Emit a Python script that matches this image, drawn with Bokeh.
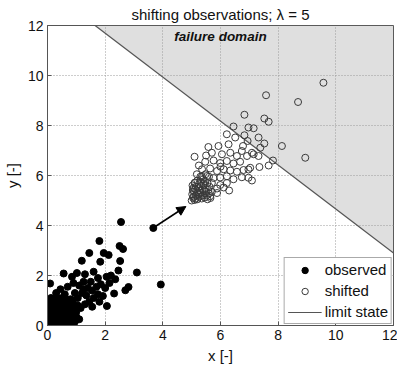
from bokeh.plotting import figure
from bokeh.models import (Arrow, NormalHead, Label, Legend, LegendItem,
                          FixedTicker, Range1d)
from bokeh.embed import file_html
from bokeh.resources import INLINE

# ---------------- data ----------------
obs_x = [3.67, 2.55, 1.80, 2.50, 2.62, 1.45, 1.95, 2.12, 1.19, 1.83, 2.52, 3.10, 2.46, 0.09,
         2.81, 2.70, 2.31, 1.92, 2.06, 0.56, 3.93, 1.02, 1.30, 2.20, 1.60, 2.35, 1.50, 1.75,
         2.05, 0.85,
         0.70, 0.90, 1.10, 1.25, 1.40, 1.55, 1.70, 1.85, 2.00, 1.20, 1.35, 1.60, 1.75, 0.95,
         1.05, 1.45, 1.80, 2.15, 0.60, 0.80, 1.30, 1.55, 1.15, 0.45, 0.30, 0.50, 0.35, 1.00,
         0.85, 1.25,
         0.05, 0.10, 0.15, 0.20, 0.25, 0.30, 0.35, 0.40, 0.45, 0.50, 0.55, 0.60, 0.65, 0.70,
         0.75, 0.80, 0.85, 0.90, 0.95, 1.00, 0.05, 0.10, 0.15, 0.20, 0.25, 0.30, 0.35, 0.40,
         0.45, 0.50, 0.55, 0.60, 0.65, 0.70, 0.75, 0.80, 0.12, 0.22, 0.32, 0.42, 0.52, 0.62,
         0.08, 0.18, 0.28, 0.38, 0.48, 0.58, 0.68, 0.78, 0.88, 0.15, 0.25, 0.05, 0.02, 0.12,
         0.35, 0.20, 0.60, 0.72, 1.05, 1.10, 0.95]
obs_y = [3.90, 4.14, 3.38, 3.18, 3.06, 2.90, 2.90, 2.82, 2.59, 2.55, 2.58, 2.12, 2.20, 1.68,
         1.54, 1.41, 1.28, 1.18, 0.78, 2.08, 1.64, 2.10, 2.05, 2.00, 2.15, 1.85, 1.75, 1.90,
         1.95, 1.95,
         1.55, 1.70, 1.60, 1.75, 1.50, 1.40, 1.55, 1.65, 1.50, 1.30, 1.20, 1.10, 1.25, 1.30,
         1.10, 0.95, 0.95, 1.70, 1.25, 1.05, 0.85, 0.75, 0.70, 1.45, 1.30, 1.10, 0.95, 0.55,
         0.80, 1.45,
         0.05, 0.20, 0.10, 0.30, 0.05, 0.15, 0.40, 0.25, 0.10, 0.35, 0.55, 0.20, 0.45, 0.10,
         0.30, 0.60, 0.25, 0.45, 0.15, 0.35, 0.45, 0.65, 0.35, 0.75, 0.55, 0.85, 0.60, 0.70,
         0.90, 0.65, 0.80, 0.95, 0.70, 0.85, 0.55, 0.05, 0.02, 0.12, 0.02, 0.48, 0.18, 0.02,
         0.30, 0.55, 0.28, 0.12, 0.75, 0.40, 0.60, 0.90, 1.00, 0.85, 1.00, 0.90, 0.15, 1.10,
         1.10, 0.95, 1.05, 0.38, 0.80, 0.25, 0.65]

sh_x = [9.57, 7.58, 8.69, 6.83, 7.52, 7.67, 6.45, 6.97, 7.15, 6.22, 6.83, 6.51, 7.32, 6.94,
        7.52, 8.13, 6.78, 7.38, 7.15, 7.32, 8.94, 7.82, 7.67, 7.35, 6.97, 7.09, 6.74, 5.58,
        5.93, 6.28, 5.10, 5.70, 6.05, 6.34, 6.57, 6.74, 6.92, 7.09,
        5.47, 5.76, 5.99, 6.22, 6.45, 6.68, 7.03, 5.36, 5.64, 5.88, 6.11, 6.34, 6.57, 6.80,
        5.30, 5.53, 5.76, 5.99, 6.22, 6.45, 6.97, 5.12, 5.41, 5.70, 5.99, 6.22, 5.06, 5.88,
        6.11, 5.88, 5.64, 6.30, 5.25, 5.50, 6.00,
        5.00, 5.05, 5.10, 5.15, 5.20, 5.25, 5.30, 5.35, 5.40, 5.45, 5.50, 5.55, 5.60, 5.02,
        5.08, 5.12, 5.18, 5.22, 5.28, 5.32, 5.38, 5.42, 5.48, 5.52, 5.58, 5.62, 5.65, 5.70,
        5.03, 5.10, 5.20, 5.30, 5.40, 5.15, 5.25, 5.35, 5.45, 5.55, 5.06, 5.14, 5.24, 5.34,
        5.44, 5.04, 5.60, 5.48, 5.18]
sh_y = [9.71, 9.21, 8.94, 8.43, 8.28, 8.15, 7.96, 7.92, 7.89, 7.65, 7.61, 7.52, 7.52, 7.38,
        7.28, 7.18, 7.18, 7.11, 6.85, 6.78, 6.71, 6.60, 6.40, 6.34, 6.24, 5.80, 5.93, 7.14,
        7.18, 7.25, 6.75, 6.91, 6.85, 6.91, 6.78, 6.98, 6.78, 6.91,
        6.55, 6.60, 6.50, 6.58, 6.48, 6.55, 6.31, 6.25, 6.28, 6.18, 6.25, 6.20, 6.15, 6.22,
        5.95, 5.98, 5.90, 5.92, 5.97, 5.85, 5.91, 5.72, 5.68, 5.70, 5.62, 5.70, 5.50, 5.48,
        5.52, 5.30, 5.17, 5.40, 6.40, 6.80, 6.35,
        5.00, 5.10, 5.02, 5.20, 5.05, 5.15, 5.30, 5.08, 5.22, 5.12, 5.35, 5.05, 5.28, 5.25,
        5.35, 5.45, 5.32, 5.50, 5.40, 5.58, 5.45, 5.62, 5.50, 5.20, 5.42, 5.55, 5.10, 5.35,
        5.60, 5.70, 5.80, 5.75, 5.85, 5.55, 5.65, 5.95, 5.78, 5.70, 5.15, 5.08, 5.25, 5.18,
        5.40, 5.42, 5.95, 6.05, 6.05]

limit_x = [1.65, 12.0]
limit_y = [12.0, 2.9]
domain_x = [1.65, 12.0, 12.0]
domain_y = [12.0, 2.9, 12.0]
arrow_start = (3.74, 3.96)
arrow_end = (4.80, 4.76)
ticks = [0, 2, 4, 6, 8, 10, 12]

FONT = "Liberation Sans"

p = figure(frame_width=346, frame_height=300,
           x_range=Range1d(0, 12), y_range=Range1d(0, 12),
           output_backend="svg", toolbar_location=None,
           min_border_left=39, min_border_right=4,
           min_border_top=22, min_border_bottom=34,
           title="shifting observations; \u03bb = 5")
p.title.align = "center"
p.title.text_font = FONT
p.title.text_font_size = "15px"
p.title.text_font_style = "normal"
p.title.text_color = "#111111"
p.title.standoff = 6

# failure domain patch
p.patch(domain_x, domain_y, fill_color="#9a9a9a", fill_alpha=0.32, line_color=None)
ls = p.line(limit_x, limit_y, line_color="#555555", line_width=1.2)

r_obs = p.scatter(obs_x, obs_y, size=7, marker="circle",
                  fill_color="black", line_color="black")
r_sh = p.scatter(sh_x, sh_y, size=7, marker="circle",
                 fill_color=None, line_color="#3a3a3a", line_width=1)

p.add_layout(Arrow(end=NormalHead(size=9, fill_color="black", line_color="black"),
                   x_start=arrow_start[0], y_start=arrow_start[1],
                   x_end=arrow_end[0], y_end=arrow_end[1],
                   line_color="black", line_width=1.5))

p.add_layout(Label(x=6.0, y=11.55, text="failure domain", text_align="center",
                   text_baseline="middle", text_font=FONT, text_font_size="13.5px",
                   text_font_style="bold italic", text_color="#111111"))

for ax in (p.xaxis, p.yaxis):
    ax.ticker = FixedTicker(ticks=ticks)
    ax.major_label_text_font = FONT
    ax.major_label_text_font_size = "14px"
    ax.major_label_text_color = "#111111"
    ax.axis_label_text_font = FONT
    ax.axis_label_text_font_size = "15px"
    ax.axis_label_text_font_style = "normal"
    ax.axis_label_text_color = "#111111"
    ax.axis_line_color = "#555555"
    ax.major_tick_line_color = "#555555"
    ax.major_tick_in = 4
    ax.major_tick_out = 0
    ax.minor_tick_line_color = None
    ax.major_label_standoff = 4
    ax.axis_label_standoff = 4
p.xaxis.axis_label = "x [-]"
p.yaxis.axis_label = "y [-]"

for g in (p.xgrid, p.ygrid):
    g.ticker = FixedTicker(ticks=ticks)
    g.grid_line_color = "#9a9a9a"
    g.grid_line_dash = "1 2"
    g.grid_line_width = 1

p.outline_line_color = "#555555"
p.outline_line_alpha = 1

legend = Legend(items=[LegendItem(label="observed", renderers=[r_obs]),
                       LegendItem(label="shifted", renderers=[r_sh]),
                       LegendItem(label="limit state", renderers=[ls])],
                location="bottom_right")
legend.label_text_font = FONT
legend.label_text_font_size = "15px"
legend.label_text_color = "#111111"
legend.glyph_width = 34
legend.glyph_height = 16
legend.label_height = 16
legend.label_standoff = 3
legend.spacing = 4
legend.padding = 3
legend.margin = 1
legend.border_line_color = "#555555"
legend.background_fill_alpha = 1
p.add_layout(legend)

open("out.html", "w").write(file_html(p, INLINE))
